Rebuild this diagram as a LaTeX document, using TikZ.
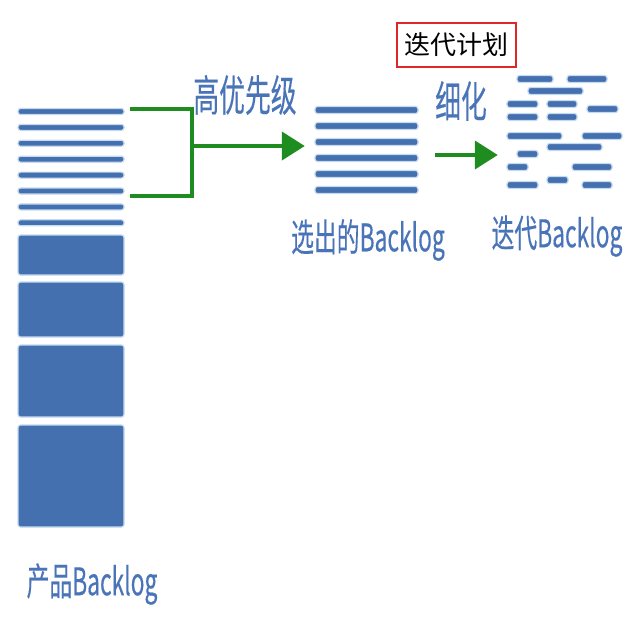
\documentclass[tikz,border=0pt]{standalone}
\usepackage{fontspec}
\newfontfamily\cjk[FakeBold=0.4]{Noto Sans CJK SC}
\newfontfamily\cjkplain{Noto Sans CJK SC}
\usetikzlibrary{arrows.meta}
\definecolor{barblue}{RGB}{68,112,176}
\definecolor{barhalo}{RGB}{196,218,240}
\definecolor{labelblue}{RGB}{74,116,184}
\definecolor{flowgreen}{RGB}{30,140,30}
\definecolor{boxred}{RGB}{220,40,40}
\newcommand{\narrow}[1]{\scalebox{0.6}[1]{#1}}
\tikzset{
  bar/.style={draw=barhalo, fill=barblue, line width=1.2pt, rounded corners=2.5pt},
  lbl/.style={text=labelblue, font=\cjk\fontsize{38}{38}\selectfont, inner sep=0pt},
  biglbl/.style={lbl, font=\cjk\fontsize{43}{43}\selectfont},
  flow/.style={draw=flowgreen, line width=4pt},
  tip/.style={-{Triangle[length=23pt,width=28pt]}},
}
\begin{document}
\begin{tikzpicture}[x=1pt, y=-1pt]
			\useasboundingbox (0,0) rectangle (640,622);
			% product backlog: thin items on top, big ones below
			\foreach \i in {0,...,7}
				\draw[bar] (18,{111.5+15.9*\i-3}) rectangle (124,{111.5+15.9*\i+3});
			\draw[bar] (18,235) rectangle (124,275);
			\draw[bar] (18,282) rectangle (124,337);
			\draw[bar] (18,345) rectangle (124,417);
			\draw[bar] (18,425) rectangle (124,527);
			% selected backlog
			\foreach \i in {0,...,5}
				\draw[bar] (315,{110+16*\i-3.5}) rectangle (418,{110+16*\i+3.5});
			% iteration backlog, broken into small pieces
			\foreach \a/\b/\y in {517/553/79, 567/607/79, 528/583/91, 507/538/104, 547/577/104,
					587/618/109, 507/538/117, 547/577/117, 507/562/136, 582/622/136, 547/602/147,
					517/538/154, 507/528/167, 572/612/167, 547/568/180, 507/538/185, 582/612/185}
				\draw[bar] (\a,{\y-3.5}) rectangle (\b,{\y+3.5});
			\coordinate (prodtop) at (130,109);
			\coordinate (prodbot) at (130,196);
			\coordinate (fork) at (192,146);
			\node[inner sep=0, minimum width=122pt, minimum height=90pt] (sel) at (366,150) {};
			\node[inner sep=0, minimum width=124pt, minimum height=110pt] (iter) at (560,155) {};
			\draw[flow] (prodtop) -| (fork) |- (prodbot);
			\draw[flow, tip] (fork) -- (sel.west |- fork);
			\draw[flow, tip, shorten <=8pt] (sel.east |- iter.west) -- (iter.west);
			\node[biglbl] (prio) at (245,95) {\narrow{高优先级}};
			\node[biglbl] (refine) at (461,101) {\narrow{细化}};
			\node[lbl] (sellbl) at (368,240) {\narrow{选出的Backlog}};
			\node[lbl] (iterlbl) at (557,236) {\narrow{迭代Backlog}};
			\node[lbl] (prodlbl) at (92,584) {\narrow{产品Backlog}};
			\node[draw=boxred, line width=1.2pt, font=\cjkplain\fontsize{26}{26}\selectfont,
				minimum width=119pt, minimum height=44pt] (plan) at (456.5,45) {迭代计划};
		\end{tikzpicture}
\end{document}
